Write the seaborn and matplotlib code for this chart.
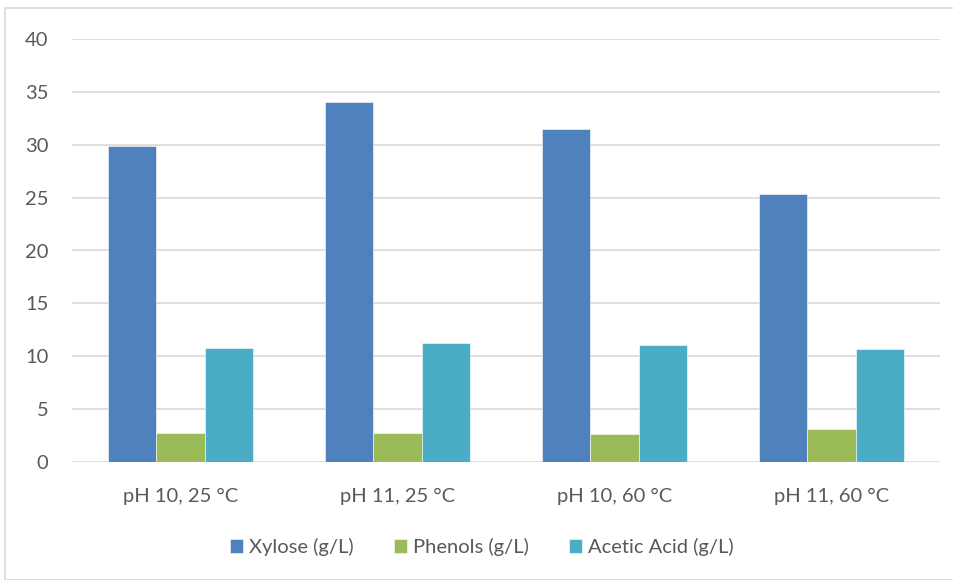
import matplotlib
matplotlib.use("Agg")
import matplotlib.pyplot as plt
import seaborn as sns
import pandas as pd
from matplotlib.patches import Rectangle

categories = ["pH 10, 25 °C", "pH 11, 25 °C", "pH 10, 60 °C", "pH 11, 60 °C"]
series_names = ["Xylose (g/L)", "Phenols (g/L)", "Acetic Acid (g/L)"]
xylose = [29.9, 34.0, 31.5, 25.3]
phenols = [2.7, 2.75, 2.65, 3.15]
acetic = [10.8, 11.3, 11.05, 10.7]
yticks = [0, 5, 10, 15, 20, 25, 30, 35, 40]

rows = []
for name, vals in zip(series_names, [xylose, phenols, acetic]):
    for c, v in zip(categories, vals):
        rows.append({"Condition": c, "Series": name, "Value": v})
df = pd.DataFrame(rows)

sns.set_theme(style="white")
plt.rcParams['font.family'] = ['Lato', 'DejaVu Sans']

fig = plt.figure(figsize=(9.54, 5.8), dpi=100)
ax = fig.add_axes([72/954, 1-462/580, (940-72)/954, (462-39)/580])

palette = ["#4F81BD", "#9BBB59", "#4BACC6"]
sns.barplot(data=df, x="Condition", y="Value", hue="Series", order=categories,
            hue_order=series_names, palette=palette, width=0.664, ax=ax,
            saturation=1, edgecolor="#FFFFFF", linewidth=0.4)

ax.set_ylim(0, 40)
ax.set_yticks(yticks)
ax.set_yticklabels([str(t) for t in yticks])
ax.set_xlim(-0.5, 3.5)
ax.set_xlabel("")
ax.set_ylabel("")
for s in ax.spines.values():
    s.set_visible(False)
ax.yaxis.grid(True, color="#D9D9D9", linewidth=1.2)
ax.set_axisbelow(True)
ax.tick_params(axis="y", length=0, pad=17, labelsize=14.5, labelcolor="#595959")
ax.tick_params(axis="x", length=0, pad=19, labelsize=14.5, labelcolor="#595959")
for lbl in ax.get_yticklabels():
    lbl.set_horizontalalignment("right")

handles, labels = ax.get_legend_handles_labels()
ax.legend_.remove()
fig.legend(handles, labels, loc="center", bbox_to_anchor=(482/954, 1-547/580),
           ncol=3, frameon=False, fontsize=14.5, labelcolor="#595959",
           handlelength=0.65, handleheight=0.65, handletextpad=0.3, columnspacing=2.0)

fig.patches.append(Rectangle((5/954, 0), 950/954, 1-8/580, transform=fig.transFigure,
                             fill=False, edgecolor="#D9D9D9", linewidth=1.2))

fig.savefig("out.png", dpi=100)
